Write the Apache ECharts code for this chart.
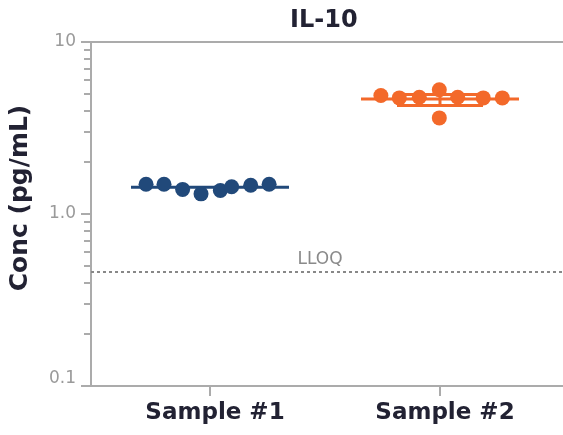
<!DOCTYPE html>
<html>
<head>
<meta charset="utf-8">
<script src="https://cdn.jsdelivr.net/npm/echarts@6/dist/echarts.min.js"></script>
<style>
html,body{margin:0;padding:0;background:#fff;}
#chart{width:563px;height:435px;}
</style>
</head>
<body>
<div id="chart"></div>
<script>
// ---- data ----
const categories = ['Sample #1', 'Sample #2'];
const chartTitle = 'IL-10';
const yTitle = 'Conc (pg/mL)';
const sample1Values = [1.49, 1.49, 1.39, 1.31, 1.37, 1.44, 1.47, 1.49];
const sample2Values = [4.89, 4.73, 4.77, 5.28, 3.62, 4.77, 4.73, 4.73];
const sample1Jitter = [-0.278, -0.200, -0.119, -0.039, 0.045, 0.094, 0.177, 0.257];
const sample2Jitter = [-0.257, -0.177, -0.090, -0.003, -0.003, 0.077, 0.188, 0.271];
const means = [1.43, 4.66];
const errLow = [null, 4.27];
const errHigh = [null, 4.95];
const lloq = 0.46;
const yMajorTicks = [0.1, 1, 10];
const yMajorLabels = ['0.1', '1.0', '10'];
const yMinorTicks = [0.2,0.3,0.4,0.5,0.6,0.7,0.8,0.9,2,3,4,5,6,7,8,9];

// ---- style ----
const FONT = 'DejaVu Sans';
const colors = ['#21497a', '#f3692a'];
const axisColor = '#ababab';
const textDark = '#222233';
const meanHalf = 79;   // px
const capHalf = 43;    // px

const chart = echarts.init(document.getElementById('chart'));

function pts(vals, jit, idx) {
  return vals.map((v, i) => [idx + 1 + jit[i], v]);
}

const summaryData = means.map((m, i) => [
  i + 1, m,
  errLow[i] == null ? NaN : errLow[i],
  errHigh[i] == null ? NaN : errHigh[i]
]);

const option = {
  animation: false,
  textStyle: { fontFamily: FONT },
  title: {
    text: chartTitle,
    left: 285, top: 4,
    textStyle: { fontFamily: FONT, fontSize: 24, fontWeight: 'bold', color: textDark }
  },
  grid: { left: 91, right: 0, top: 42, bottom: 49, containLabel: false },
  xAxis: [{
    type: 'value', min: 0.4826, max: 2.5348,
    splitLine: { show: false },
    axisLine: { show: true, lineStyle: { color: axisColor, width: 2 } },
    axisTick: { show: true, customValues: [1, 2], length: 10, lineStyle: { color: axisColor, width: 2 } },
    axisLabel: {
      customValues: [1, 2], margin: 16, padding: [0, 0, 0, 10],
      formatter: v => categories[Math.round(v) - 1] || '',
      fontFamily: FONT, fontSize: 23, fontWeight: 'bold', color: textDark
    }
  }, {
    type: 'value', position: 'top', min: 0.4826, max: 2.5348,
    splitLine: { show: false },
    axisLine: { show: true, lineStyle: { color: axisColor, width: 2 } },
    axisTick: { show: false }, axisLabel: { show: false }
  }],
  yAxis: [{
    type: 'log', logBase: 10, min: 0.1, max: 10,
    splitLine: { show: false },
    axisLine: { show: true, lineStyle: { color: axisColor, width: 2 } },
    axisTick: { show: true, customValues: yMinorTicks, length: 7, lineStyle: { color: axisColor, width: 2 } },
    axisLabel: { show: false },
    name: yTitle, nameLocation: 'middle', nameRotate: 90, nameGap: 58,
    nameTextStyle: { fontFamily: FONT, fontSize: 25, fontWeight: 'bold', color: textDark, padding: [0, 0, 0, 32] }
  }, {
    type: 'log', logBase: 10, min: 0.1, max: 10, position: 'left',
    splitLine: { show: false },
    axisLine: { show: false },
    axisTick: { show: true, length: 10, lineStyle: { color: axisColor, width: 2 } },
    axisLabel: {
      margin: 15,
      formatter: v => {
        const i = yMajorTicks.findIndex(t => Math.abs(t - v) < 1e-9);
        if (i < 0) return '';
        return i === 0 ? '{low|' + yMajorLabels[i] + '}' : yMajorLabels[i];
      },
      rich: { low: { fontFamily: FONT, fontSize: 17, color: '#9a9a9a', padding: [0, 0, 14, 0] } },
      fontFamily: FONT, fontSize: 17, color: '#9a9a9a'
    }
  }],
  series: [
    {
      type: 'custom',
      xAxisIndex: 0, yAxisIndex: 0,
      data: summaryData,
      z: 1,
      renderItem: function (params, api) {
        const x = api.value(0), m = api.value(1), lo = api.value(2), hi = api.value(3);
        const c = colors[params.dataIndex];
        const p = api.coord([x, m]);
        const children = [{
          type: 'line',
          shape: { x1: p[0] - meanHalf, y1: p[1], x2: p[0] + meanHalf, y2: p[1] },
          style: { stroke: c, lineWidth: 3 }
        }];
        if (!isNaN(lo) && !isNaN(hi)) {
          const pl = api.coord([x, lo]), ph = api.coord([x, hi]);
          children.push(
            { type: 'line', shape: { x1: pl[0], y1: pl[1], x2: ph[0], y2: ph[1] }, style: { stroke: c, lineWidth: 3 } },
            { type: 'line', shape: { x1: pl[0] - capHalf, y1: pl[1], x2: pl[0] + capHalf, y2: pl[1] }, style: { stroke: c, lineWidth: 3 } },
            { type: 'line', shape: { x1: ph[0] - capHalf, y1: ph[1], x2: ph[0] + capHalf, y2: ph[1] }, style: { stroke: c, lineWidth: 3 } }
          );
        }
        return { type: 'group', children: children };
      },
      markLine: {
        silent: true, symbol: 'none',
        lineStyle: { color: '#888', width: 2, type: [3, 3] },
        label: { show: true, position: 'insideMiddleTop', formatter: 'LLOQ', color: '#8a8a8a', fontFamily: FONT, fontSize: 17, distance: 4, padding: [0, 14, 0, 0] },
        data: [{ yAxis: lloq }]
      }
    },
    {
      type: 'scatter', xAxisIndex: 0, yAxisIndex: 0, z: 3,
      symbolSize: 15, itemStyle: { color: colors[0], opacity: 1 },
      data: pts(sample1Values, sample1Jitter, 0)
    },
    {
      type: 'scatter', xAxisIndex: 0, yAxisIndex: 0, z: 3,
      symbolSize: 15, itemStyle: { color: colors[1], opacity: 1 },
      data: pts(sample2Values, sample2Jitter, 1)
    }
  ]
};
chart.setOption(option);
</script>
</body>
</html>
